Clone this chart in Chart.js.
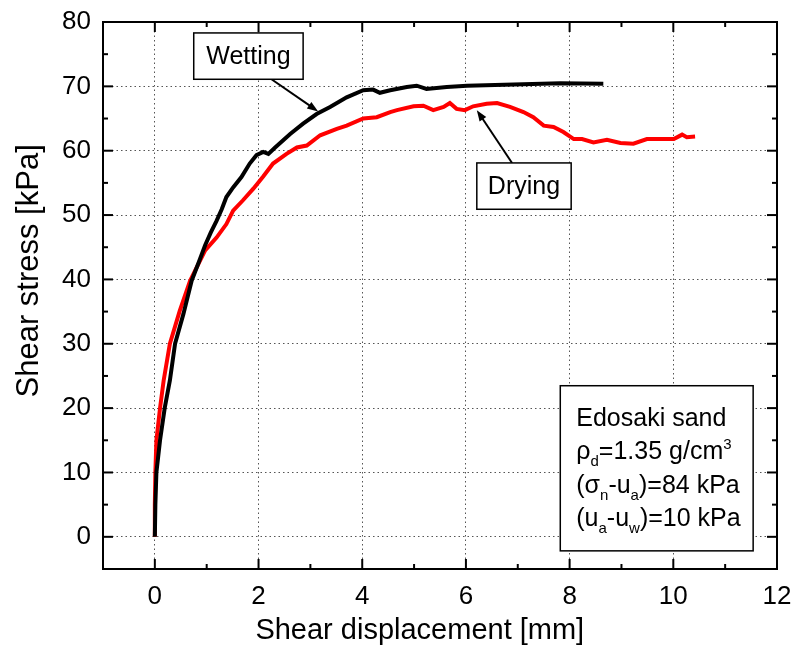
<!DOCTYPE html>
<html>
<head>
<meta charset="utf-8">
<script src="https://cdn.jsdelivr.net/npm/chart.js@4.4.1/dist/chart.umd.min.js"></script>
<style>
  html, body { margin: 0; padding: 0; background: #fff; }
  #wrap { width: 799px; height: 652px; }
</style>
</head>
<body>
<div id="wrap"><canvas id="myChart" width="799" height="652"></canvas></div>
<script>
// Shear displacement [mm] / shear stress [kPa]
const wettingX = [0, 0.01, 0.03, 0.1, 0.19, 0.29, 0.39, 0.55, 0.71, 0.84, 0.97, 1.08, 1.19, 1.29, 1.38, 1.51, 1.67, 1.83, 1.96, 2.09, 2.19, 2.32, 2.61, 2.86, 3.12, 3.38, 3.7, 4.02, 4.21, 4.34, 4.54, 4.86, 5.05, 5.24, 5.63, 6.02, 6.92, 7.82, 8.65];
const wettingY = [0, 5, 10, 15, 20, 24.3, 30, 34.6, 39.8, 42.5, 45.3, 47.3, 49.1, 50.9, 52.8, 54.3, 55.9, 58, 59.3, 59.8, 59.5, 60.5, 62.6, 64.2, 65.7, 66.8, 68.3, 69.4, 69.5, 69.0, 69.4, 69.9, 70.1, 69.6, 69.9, 70.1, 70.3, 70.5, 70.4];

const dryingX = [0, 0, 0.01, 0.03, 0.1, 0.17, 0.29, 0.48, 0.68, 0.97, 1.19, 1.38, 1.51, 1.7, 1.9, 2.09, 2.28, 2.54, 2.74, 2.93, 3.19, 3.51, 3.7, 4.02, 4.28, 4.54, 4.67, 4.99, 5.18, 5.37, 5.57, 5.69, 5.82, 5.98, 6.14, 6.4, 6.6, 6.85, 7.11, 7.3, 7.5, 7.69, 7.88, 8.08, 8.24, 8.46, 8.72, 8.98, 9.23, 9.49, 9.75, 10.01, 10.17, 10.26, 10.42];
const dryingY = [0, 5, 10, 15, 20, 24.3, 30, 35.1, 39.8, 44.5, 46.5, 48.6, 50.7, 52.3, 54.1, 56.0, 58, 59.5, 60.5, 60.8, 62.4, 63.4, 63.9, 65.0, 65.2, 66.0, 66.3, 66.9, 67.0, 66.3, 66.8, 67.4, 66.5, 66.3, 66.9, 67.3, 67.4, 66.8, 66.0, 65.2, 63.9, 63.7, 62.9, 61.8, 61.8, 61.3, 61.7, 61.2, 61.1, 61.8, 61.8, 61.8, 62.5, 62.1, 62.2];

const xTicks = [0, 2, 4, 6, 8, 10, 12];
const xMinor = [1, 3, 5, 7, 9, 11];
const yTicks = [0, 10, 20, 30, 40, 50, 60, 70, 80];
const yMinor = [5, 15, 25, 35, 45, 55, 65, 75];

const xTitle = "Shear displacement [mm]";
const yTitle = "Shear stress [kPa]";

// callouts: box corners and arrow ends in data units
const callouts = [
  { text: "Wetting", box: [0.75, 78.3, 2.86, 71.1], from: [2.25, 71.1], to: [3.15, 66.1] },
  { text: "Drying", box: [6.21, 58.1, 8.03, 50.9], from: [6.89, 58.1], to: [6.21, 66.3] },
];

const infoBox = [7.82, 23.48, 11.54, -2.18];
const infoLines = [
  [["Edosaki sand", ""]],
  [["\u03c1", ""], ["d", "sub"], ["=1.35 g/cm", ""], ["3", "sup"]],
  [["(\u03c3", ""], ["n", "sub"], ["-u", ""], ["a", "sub"], [")=84 kPa", ""]],
  [["(u", ""], ["a", "sub"], ["-u", ""], ["w", "sub"], [")=10 kPa", ""]],
];

const FONT = '"Liberation Sans", Arial, sans-serif';

function toPoints(xs, ys) {
  return xs.map((x, i) => ({ x: x, y: ys[i] }));
}

function line(ctx, x1, y1, x2, y2) {
  ctx.beginPath();
  ctx.moveTo(x1, y1);
  ctx.lineTo(x2, y2);
  ctx.stroke();
}

function drawRich(ctx, segs, x, y, size) {
  segs.forEach(([t, kind]) => {
    const s = kind ? size * 0.6 : size;
    ctx.font = `${s}px ${FONT}`;
    let dy = 0;
    if (kind === "sub") dy = size * 0.28;
    if (kind === "sup") dy = -size * 0.42;
    ctx.fillText(t, x, y + dy);
    x += ctx.measureText(t).width;
  });
}

const annotations = {
  id: "annotations",
  afterDatasetsDraw(chart) {
    const { ctx, scales: { x, y } } = chart;
    ctx.save();
    ctx.fillStyle = "#000";
    ctx.strokeStyle = "#000";

    callouts.forEach((c) => {
      // arrow
      const x1 = x.getPixelForValue(c.from[0]), y1 = y.getPixelForValue(c.from[1]);
      const x2 = x.getPixelForValue(c.to[0]), y2 = y.getPixelForValue(c.to[1]);
      ctx.lineWidth = 2;
      const ang = Math.atan2(y2 - y1, x2 - x1);
      line(ctx, x1, y1, x2 - 8 * Math.cos(ang), y2 - 8 * Math.sin(ang));
      ctx.beginPath();
      ctx.moveTo(x2, y2);
      ctx.lineTo(x2 - 11 * Math.cos(ang) + 4 * Math.sin(ang), y2 - 11 * Math.sin(ang) - 4 * Math.cos(ang));
      ctx.lineTo(x2 - 11 * Math.cos(ang) - 4 * Math.sin(ang), y2 - 11 * Math.sin(ang) + 4 * Math.cos(ang));
      ctx.closePath();
      ctx.fill();

      // box
      const bl = x.getPixelForValue(c.box[0]), bt = y.getPixelForValue(c.box[1]);
      const br = x.getPixelForValue(c.box[2]), bb = y.getPixelForValue(c.box[3]);
      ctx.fillStyle = "#fff";
      ctx.fillRect(bl, bt, br - bl, bb - bt);
      ctx.lineWidth = 1.5;
      ctx.strokeRect(bl, bt, br - bl, bb - bt);
      ctx.fillStyle = "#000";
      ctx.font = `25px ${FONT}`;
      ctx.textAlign = "center";
      ctx.textBaseline = "middle";
      ctx.fillText(c.text, (bl + br) / 2, (bt + bb) / 2 + 1);
    });

    // info box
    const il = x.getPixelForValue(infoBox[0]), it = y.getPixelForValue(infoBox[1]);
    const ir = x.getPixelForValue(infoBox[2]), ib = y.getPixelForValue(infoBox[3]);
    ctx.fillStyle = "#fff";
    ctx.fillRect(il, it, ir - il, ib - it);
    ctx.lineWidth = 1.5;
    ctx.strokeRect(il, it, ir - il, ib - it);
    ctx.fillStyle = "#000";
    ctx.textAlign = "left";
    ctx.textBaseline = "alphabetic";
    infoLines.forEach((segs, i) => {
      drawRich(ctx, segs, il + 16, it + 40 + i * 33.5, 25);
    });
    ctx.restore();
  },
};

const frame = {
  id: "frame",
  afterDraw(chart) {
    const { ctx, chartArea: a, scales: { x, y } } = chart;
    ctx.save();
    ctx.strokeStyle = "#000";
    ctx.lineWidth = 2;

    // inward ticks on all four sides
    xTicks.forEach((v) => {
      const px = x.getPixelForValue(v);
      line(ctx, px, a.bottom, px, a.bottom - 10);
      line(ctx, px, a.top, px, a.top + 10);
    });
    xMinor.forEach((v) => {
      const px = x.getPixelForValue(v);
      line(ctx, px, a.bottom, px, a.bottom - 5);
      line(ctx, px, a.top, px, a.top + 5);
    });
    yTicks.forEach((v) => {
      const py = y.getPixelForValue(v);
      line(ctx, a.left, py, a.left + 10, py);
      line(ctx, a.right, py, a.right - 10, py);
    });
    yMinor.forEach((v) => {
      const py = y.getPixelForValue(v);
      line(ctx, a.left, py, a.left + 5, py);
      line(ctx, a.right, py, a.right - 5, py);
    });

    ctx.strokeRect(a.left, a.top, a.right - a.left, a.bottom - a.top);

    // axis titles
    ctx.fillStyle = "#000";
    ctx.font = `29px ${FONT}`;
    ctx.textAlign = "center";
    ctx.textBaseline = "middle";
    ctx.fillText(xTitle, a.left + (a.right - a.left) * 0.47, 631);
    ctx.font = `31px ${FONT}`;
    ctx.translate(29, a.top + (a.bottom - a.top) * 0.455);
    ctx.rotate(-Math.PI / 2);
    ctx.fillText(yTitle, 0, 0);
    ctx.restore();
  },
};

const tickFont = { family: FONT, size: 26 };

new Chart("myChart", {
  type: "scatter",
  data: {
    datasets: [
      {
        label: "Wetting",
        data: toPoints(wettingX, wettingY),
        borderColor: "#000",
        backgroundColor: "#000",
        showLine: true,
        borderWidth: 4,
        pointRadius: 0,
        tension: 0,
      },
      {
        label: "Drying",
        data: toPoints(dryingX, dryingY),
        borderColor: "#ff0000",
        backgroundColor: "#ff0000",
        showLine: true,
        borderWidth: 4,
        pointRadius: 0,
        tension: 0,
      },
    ],
  },
  options: {
    responsive: false,
    animation: false,
    devicePixelRatio: 1,
    layout: { padding: { top: 22, right: 22, left: 0, bottom: 0 } },
    plugins: {
      legend: { display: false },
      tooltip: { enabled: false },
    },
    scales: {
      x: {
        type: "linear",
        min: -1,
        max: 12,
        afterBuildTicks: (s) => {
          s.ticks = xTicks.map((v) => ({ value: v }));
        },
        afterFit: (s) => {
          s.height = 83;
          s.paddingLeft = 0;
          s.paddingRight = 0;
        },
        grid: { color: "#555", lineWidth: 1, drawTicks: false },
        border: { display: false, dash: [1.5, 3] },
        ticks: { color: "#000", font: tickFont, padding: 12, maxRotation: 0, autoSkip: false },
      },
      y: {
        type: "linear",
        min: -5,
        max: 80,
        afterBuildTicks: (s) => {
          s.ticks = yTicks.map((v) => ({ value: v }));
        },
        afterFit: (s) => {
          s.width = 103;
          s.paddingTop = 0;
          s.paddingBottom = 0;
        },
        grid: { color: "#555", lineWidth: 1, drawTicks: false },
        border: { display: false, dash: [1.5, 3] },
        ticks: { color: "#000", font: tickFont, padding: 12, autoSkip: false },
      },
    },
  },
  plugins: [annotations, frame],
});
</script>
</body>
</html>
